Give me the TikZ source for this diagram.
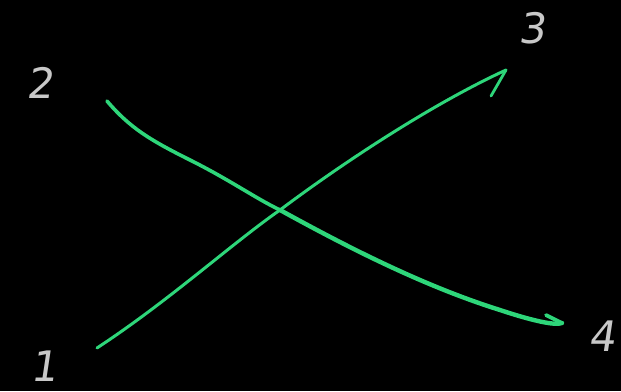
\documentclass[tikz,border=0pt]{standalone}
\usepackage{fontspec}
\setmainfont{DejaVu Sans}
\definecolor{ink}{RGB}{46,214,122}
\definecolor{chalk}{RGB}{200,200,200}
\begin{document}
\begin{tikzpicture}[x=1pt,y=-1pt,
  stroke/.style={draw=ink,line cap=round,line join=round},
  label/.style={text=chalk,font=\fontsize{42}{42}\selectfont\addfontfeatures{FakeSlant=0.15},inner sep=0pt}]
\fill[black] (0,0) rectangle (621,391);
\useasboundingbox (0,0) rectangle (621,391);
% labels
\node[label] (l1) at (44,366) {1};
\node[label] (l2) at (40,83) {2};
\node[label] (l3) at (532,28) {3};
\node[label] (l4) at (602,336) {4};
% end points
\coordinate (a1) at (97,348);
\coordinate (a3) at (506,70);
\coordinate (b2) at (107,101);
\coordinate (b4) at (562,323);
\coordinate (x) at (280,210);
% line 1 -> 3
\draw[stroke,line width=3pt] (a1) .. controls (170,300) and (230,245) .. (x)
  .. controls (340,165) and (430,105) .. (a3);
\draw[stroke,line width=2.8pt] (a3) -- (491,96);
% line 2 -> 4
\draw[stroke,line width=3.6pt] (b2) .. controls (130,128) and (150,140) .. (190,160)
  .. controls (230,180) and (255,198) .. (x);
\draw[stroke,line width=4.4pt] (x) .. controls (340,243) and (420,285) .. (500,310)
  .. controls (530,320) and (555,326) .. (b4);
\draw[stroke,line width=3.8pt] (b4) -- (546,315);
\end{tikzpicture}
\end{document}
